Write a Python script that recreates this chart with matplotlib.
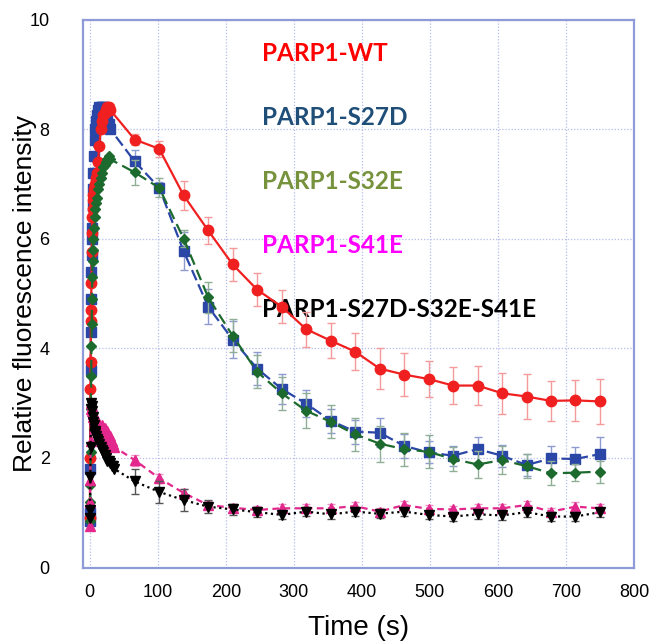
import matplotlib
matplotlib.use("Agg")
import matplotlib.pyplot as plt

# early (dense) sampling, seconds
t_fast_a = [0, 0.4, 0.8, 1.2, 1.6, 2, 2.4, 2.8, 3.2, 3.6, 4, 4.5, 5, 6, 7, 8, 9, 10,
            12, 14, 16, 18, 20, 22, 24, 26, 28, 30]
t_fast_b = [0, 0.4, 0.8, 1.2, 1.6, 2, 2.5, 3, 4, 5, 6, 7, 8, 9, 10, 12, 14, 16, 18,
            20, 22, 24, 26, 28, 30, 32, 34, 36]
# later sampling
t_slow = [66, 102, 138, 174, 210, 246, 282, 318, 354, 390, 426, 462, 498, 534,
          570, 606, 642, 678, 714, 750]

wt_fast = [0.9, 2.0, 3.25, 3.75, 4.5, 4.7, 5.2, 5.75, 6.1, 6.4, 6.55, 6.7, 6.8, 6.9,
           6.95, 7.0, 7.1, 7.2, 7.4, 7.7, 8.0, 8.15, 8.25, 8.3, 8.35, 8.4, 8.4, 8.35]
wt_slow = [7.81, 7.64, 6.79, 6.15, 5.53, 5.07, 4.76, 4.35, 4.14, 3.94, 3.63, 3.52,
           3.44, 3.32, 3.32, 3.18, 3.12, 3.04, 3.05, 3.03]
wt_err = [0.10, 0.15, 0.27, 0.25, 0.30, 0.30, 0.30, 0.32, 0.32, 0.34, 0.37, 0.39,
          0.32, 0.33, 0.36, 0.37, 0.41, 0.36, 0.37, 0.41]

s27d_fast = [0.85, 1.0, 1.8, 3.6, 4.3, 4.9, 5.4, 5.7, 6.0, 6.2, 6.6, 6.9, 7.2, 7.5,
             7.8, 8.0, 8.15, 8.25, 8.35, 8.4, 8.4, 8.4, 8.4, 8.35, 8.3, 8.2, 8.1, 8.0]
s27d_slow = [7.41, 6.93, 5.77, 4.76, 4.16, 3.63, 3.26, 2.99, 2.68, 2.48, 2.46, 2.22,
             2.10, 2.04, 2.16, 2.04, 1.87, 1.99, 1.98, 2.07]
s27d_err = [0.20, 0.10, 0.35, 0.32, 0.33, 0.30, 0.28, 0.25, 0.22, 0.22, 0.27, 0.22,
            0.20, 0.18, 0.23, 0.20, 0.20, 0.22, 0.22, 0.32]

s32e_fast = [0.85, 1.2, 1.5, 2.1, 2.9, 3.5, 4.05, 4.45, 4.9, 5.3, 5.6, 5.8, 6.0, 6.2,
             6.4, 6.55, 6.65, 6.75, 6.9, 7.0, 7.1, 7.2, 7.3, 7.35, 7.4, 7.45, 7.5, 7.45]
s32e_slow = [7.21, 6.93, 6.00, 4.93, 4.23, 3.57, 3.18, 2.86, 2.66, 2.43, 2.26, 2.16,
             2.11, 1.98, 1.88, 1.96, 1.85, 1.72, 1.73, 1.75]
s32e_err = [0.23, 0.17, 0.15, 0.28, 0.30, 0.30, 0.30, 0.32, 0.30, 0.30, 0.33, 0.30,
            0.30, 0.22, 0.25, 0.25, 0.22, 0.22, 0.15, 0.20]

s41e_fast = [0.75, 1.2, 1.6, 2.3, 2.9, 3.0, 2.95, 2.85, 2.8, 2.75, 2.7, 2.65, 2.75, 2.6,
             2.7, 2.55, 2.6, 2.5, 2.6, 2.45, 2.55, 2.4, 2.5, 2.35, 2.4, 2.3, 2.25, 2.2]
s41e_slow = [1.96, 1.63, 1.36, 1.14, 1.09, 1.05, 1.08, 1.08, 1.08, 1.12, 1.02, 1.14,
             1.07, 1.06, 1.08, 1.08, 1.14, 1.02, 1.11, 1.08]
s41e_err = [0.10, 0.08, 0.07, 0.07, 0.06, 0.07, 0.07, 0.07, 0.07, 0.08, 0.07, 0.08,
            0.07, 0.07, 0.07, 0.07, 0.08, 0.07, 0.08, 0.07]

combo_fast = [0.9, 1.05, 1.65, 2.2, 2.9, 3.0, 2.95, 2.85, 2.75, 2.65, 2.6, 2.5, 2.45,
              2.4, 2.35, 2.3, 2.25, 2.2, 2.15, 2.1, 2.05, 2.0, 1.95, 1.95, 1.9, 1.85,
              1.85, 1.8]
combo_slow = [1.57, 1.38, 1.23, 1.11, 1.06, 1.01, 0.96, 1.02, 0.97, 1.02, 0.98, 1.02,
              0.96, 0.93, 0.97, 0.95, 1.01, 0.93, 0.93, 1.01]
combo_err = [0.23, 0.20, 0.20, 0.12, 0.10, 0.08, 0.08, 0.08, 0.08, 0.08, 0.08, 0.08,
             0.08, 0.08, 0.08, 0.08, 0.08, 0.08, 0.08, 0.08]

labels = ["PARP1-WT", "PARP1-S27D", "PARP1-S32E", "PARP1-S41E", "PARP1-S27D-S32E-S41E"]
label_colors = ["#ff0000", "#1f4e79", "#76923c", "#ff00ff", "#000000"]

fig = plt.figure(figsize=(6.51, 6.44), dpi=100)
ax = fig.add_axes([83 / 651, 76.5 / 644, 551 / 651, 548 / 644])

series = [
    # fast t, fast y, slow y, err, colour, err colour, marker, ms, dashes, z
    (t_fast_a, s27d_fast, s27d_slow, s27d_err, "#2a46a6", "#8d9bd0", "s", 7, (5, 2), 3),
    (t_fast_a, wt_fast, wt_slow, wt_err, "#f02020", "#f59a9a", "o", 7.5, None, 4),
    (t_fast_a, s32e_fast, s32e_slow, s32e_err, "#1d6a2e", "#8fae95", "D", 5.5, (5, 2.5), 5),
    (t_fast_b, s41e_fast, s41e_slow, s41e_err, "#e2288c", "#ef8fc2", "^", 7, (3, 2), 6),
    (t_fast_b, combo_fast, combo_slow, combo_err, "#000000", "#555555", "v", 7, (1, 1.6), 7),
]

for tf, yf, ys, err, c, ec, m, ms, dash, z in series:
    ax.errorbar(t_slow, ys, yerr=err, fmt="none", ecolor=ec, elinewidth=1,
                capsize=3, capthick=1, zorder=z - 0.5)
    line, = ax.plot(tf + t_slow, yf + ys, color=c, marker=m, markersize=ms,
                    markeredgecolor=c, lw=1.6, zorder=z)
    if dash is not None:
        line.set_dashes(dash)

for i, (lab, col) in enumerate(zip(labels, label_colors)):
    ax.text(253, 9.38 - i * 1.167, lab, color=col, fontsize=17.5, fontweight="bold",
            family="Lato", va="center", ha="left")

ax.set_xlim(-10, 800)
ax.set_ylim(0, 10)
ax.set_xticks(range(0, 801, 100))
ax.set_yticks(range(0, 11, 2))
ax.grid(True, color="#b4bdec", linestyle=(0, (1, 1.5)), linewidth=0.9)
ax.set_axisbelow(True)
for s in ax.spines.values():
    s.set_color("#8f9bd8")
    s.set_linewidth(1.6)
ax.tick_params(length=0, labelsize=13)
ax.tick_params(axis="x", pad=12)
ax.tick_params(axis="y", pad=24)
for lbl in ax.get_xticklabels() + ax.get_yticklabels():
    lbl.set_family("Liberation Sans")

ax.set_xlabel("Time (s)", fontsize=20, family="Liberation Sans", labelpad=10)
ax.set_ylabel("Relative fluorescence intensity", fontsize=19, family="Liberation Sans")
ax.yaxis.set_label_coords(-0.083, 0.5)

fig.savefig("out.png", dpi=100)
